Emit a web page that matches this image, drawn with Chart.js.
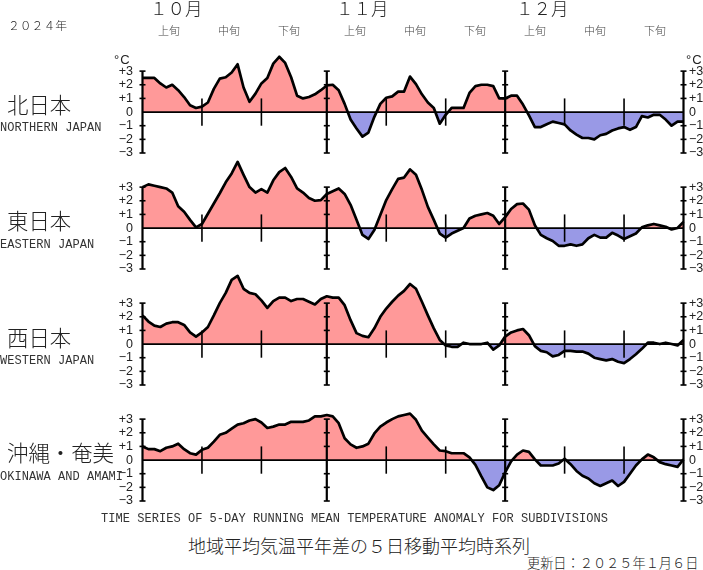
<!DOCTYPE html>
<html><head><meta charset="utf-8">
<script src="https://cdn.jsdelivr.net/npm/chart.js@4"></script>
<style>
html,body{margin:0;padding:0;background:#fff;overflow:hidden}
#page{position:relative;width:703px;height:570px;overflow:hidden}
canvas{position:absolute;left:0;pointer-events:none}
.t{position:absolute;white-space:nowrap;line-height:1;color:#222;transform:translateY(-50%)}
.jp{font-family:"Noto Sans CJK JP";font-weight:300}
.mono{font-family:"Liberation Mono";font-size:12px;color:#333;letter-spacing:.04px}
.unit{font-family:"Liberation Sans";font-size:13px;color:#222}
</style></head><body><div id="page"></div>
<script>
// ---- data ----
const monthNumbers=[10,11,12];
const monthLengths=[31,30,31];
const tickValues=[-3,-2,-1,0,1,2,3];
const monthStartDays=[31,61];
const decadeDays=[10,20,41,51,71,81];
const north=[2.5,2.5,2.5,2.1,1.8,2.0,1.6,1.1,0.5,0.3,0.4,0.7,1.7,2.45,2.55,2.9,3.5,1.8,0.75,1.35,2.1,2.5,3.55,4.05,3.6,2.55,1.2,1.0,1.1,1.3,1.6,1.95,2.0,1.6,0.6,-0.55,-1.2,-1.8,-1.5,-0.35,0.6,1.05,1.15,1.5,1.5,2.6,2.05,1.3,0.7,0.3,-0.85,-0.2,0.3,0.3,0.3,1.4,1.9,2.0,2.0,1.9,1.0,1.0,1.2,1.2,0.55,-0.25,-1.1,-1.1,-0.9,-0.7,-0.8,-0.9,-1.35,-1.65,-1.9,-1.9,-2.0,-1.7,-1.6,-1.35,-1.2,-1.1,-1.3,-1.1,-0.3,-0.4,-0.2,-0.2,-0.55,-1.0,-0.7,-0.7];
const east=[3.0,3.2,3.1,3.0,2.9,2.6,1.6,1.2,0.6,0.05,0.3,1.05,1.8,2.55,3.35,4.0,4.85,3.9,3.0,2.6,2.85,2.6,3.5,4.1,4.4,3.75,2.9,2.6,2.2,2.0,2.05,2.5,2.7,2.9,2.5,1.7,0.6,-0.5,-0.8,-0.15,0.95,2.05,2.85,3.6,3.7,4.3,3.9,2.8,1.55,0.6,-0.4,-0.7,-0.4,-0.2,0.0,0.7,0.9,1.0,1.1,0.9,0.3,0.8,1.4,1.75,1.8,1.35,0.2,-0.5,-0.75,-0.95,-1.3,-1.3,-1.2,-1.3,-1.2,-0.75,-0.5,-0.7,-0.7,-0.35,-0.55,-0.8,-0.6,-0.4,0.05,0.2,0.3,0.2,0.1,-0.1,0.0,0.45];
const west=[2.1,1.65,1.35,1.25,1.5,1.6,1.6,1.4,0.85,0.55,0.85,1.25,2.1,3.0,3.75,4.7,5.0,4.05,3.75,3.65,3.2,2.65,3.15,3.4,3.4,3.15,3.3,3.3,3.1,2.9,3.3,3.5,3.4,3.4,2.85,1.75,0.8,0.6,0.5,1.15,2.0,2.6,3.1,3.55,3.9,4.4,4.05,3.1,2.1,1.15,0.3,-0.1,-0.2,-0.2,0.1,0.0,0.0,0.0,0.1,-0.4,-0.1,0.55,0.85,1.0,1.1,0.65,-0.15,-0.5,-0.6,-0.9,-0.8,-0.5,-0.5,-0.55,-0.55,-0.7,-1.0,-1.1,-1.2,-1.1,-1.3,-1.4,-1.1,-0.75,-0.35,0.1,0.1,0.0,0.1,0.0,-0.1,0.3];
const okinawa=[1.0,0.8,0.8,0.65,0.9,1.0,1.2,0.8,0.5,0.4,0.75,0.9,1.35,1.85,2.0,2.3,2.6,2.7,2.9,3.0,2.75,2.35,2.45,2.6,2.6,2.8,2.8,2.8,2.9,3.2,3.2,3.3,3.2,2.7,1.6,1.15,0.9,1.0,1.2,1.95,2.45,2.75,3.0,3.2,3.3,3.4,2.95,2.15,1.65,1.15,0.7,0.65,0.5,0.5,0.5,0.2,-0.35,-1.2,-2.0,-2.2,-1.85,-0.9,-0.1,0.4,0.7,0.6,0.05,-0.4,-0.4,-0.4,-0.25,0.1,-0.3,-0.8,-1.15,-1.35,-1.7,-1.9,-1.7,-1.5,-1.9,-1.6,-1.0,-0.4,0.05,0.4,0.2,-0.15,-0.3,-0.4,-0.5,0.05];
const seriesList=[north,east,west,okinawa];
const regionJp=["北日本","東日本","西日本","沖縄・奄美"];
const regionEn=["NORTHERN JAPAN","EASTERN JAPAN","WESTERN JAPAN","OKINAWA AND AMAMI"];
const monthLabels=["１０月","１１月","１２月"];
const decadeLabels=["上旬","中旬","下旬","上旬","中旬","下旬","上旬","中旬","下旬"];
const yearLabel="２０２４年";
const captionEn="TIME SERIES OF 5-DAY RUNNING MEAN TEMPERATURE ANOMALY FOR SUBDIVISIONS";
const captionJp="地域平均気温平年差の５日移動平均時系列";
const updated="更新日：２０２５年１月６日";
const unitLabel="°C";

// ---- layout ----
const zeroY=[112,228,344,460], unitPx=13.67, maxV=5.5, minV=-3, padTop=6, padBottom=6;
const plotL=142.5, plotR=683.5, W=703;
const page=document.getElementById('page');
function text(s,x,y,size,cls,extra){const d=document.createElement('div');d.className='t '+cls;d.textContent=s;d.style.left=x+'px';d.style.top=y+'px';if(size)d.style.fontSize=size+'px';if(extra)Object.assign(d.style,extra);page.appendChild(d);return d;}

const dayLabels=[];
monthNumbers.forEach((m,i)=>{for(let d=1;d<=monthLengths[i];d++)dayLabels.push(m+'/'+d);});

const marks={id:'marks',afterDatasetsDraw(c){
  const g=c.ctx,x=c.scales.x,y=c.scales.y;
  g.save();g.strokeStyle='#000';g.lineCap='butt';
  const line=(a,b,e,f,w)=>{g.lineWidth=w;g.beginPath();g.moveTo(a,b);g.lineTo(e,f);g.stroke();};
  line(x.getPixelForValue(0),y.getPixelForValue(0),x.getPixelForValue(91),y.getPixelForValue(0),1.8);
  decadeDays.forEach(d=>{const p=x.getPixelForValue(d);line(p,y.getPixelForValue(1),p,y.getPixelForValue(-1),1.6);});
  [0,...monthStartDays,91].forEach(d=>{const p=x.getPixelForValue(d);
    line(p,y.getPixelForValue(3),p,y.getPixelForValue(-3),2.2);
    tickValues.forEach(v=>{if(v!==0)line(p-3,y.getPixelForValue(v),p+3,y.getPixelForValue(v),1.6);});
  });
  g.restore();
}};

const tickFmt=v=>v>0?'+'+v:(v<0?'\u2212'+(-v):'0');
seriesList.forEach((vals,i)=>{
  const cv=document.createElement('canvas');
  const plotH=(maxV-minV)*unitPx, H=plotH+padTop+padBottom;
  const top=zeroY[i]-maxV*unitPx-padTop;
  cv.width=W;cv.height=H;cv.style.top=top+'px';cv.style.width=W+'px';cv.style.height=H+'px';
  page.appendChild(cv);
  const axis=(pos,width)=>({type:'linear',position:pos,min:minV,max:maxV,bounds:'data',
    grid:{display:false,drawTicks:false},border:{display:false},
    afterBuildTicks:s=>{s.ticks=tickValues.map(v=>({value:v}));},
    afterFit:s=>{s.width=width;s.paddingTop=0;s.paddingBottom=0;},
    ticks:{autoSkip:false,padding:pos==='left'?9.5:5.5,color:'#222',font:{family:'"Liberation Sans"',size:12.5},callback:tickFmt,maxRotation:0}});
  new Chart(cv,{type:'line',
    data:{labels:dayLabels,datasets:[{data:vals,borderColor:'#000',borderWidth:2.7,pointRadius:0,tension:0,borderJoinStyle:'round',
      clip:false,fill:{target:{value:0},above:'#ff9999',below:'#9999e6'}}]},
    options:{responsive:false,animation:false,devicePixelRatio:1,
      layout:{autoPadding:false,padding:{top:padTop,bottom:padBottom,left:0,right:0}},
      plugins:{legend:{display:false},title:{display:false},tooltip:{enabled:false}},
      scales:{x:{type:'category',display:false,offset:false},y:axis('left',plotL),y2:axis('right',W-plotR)}},
    plugins:[marks]});
});

// ---- texts ----
text(yearLabel,8,25,11.8,'jp');
[150,336,516].forEach((x,i)=>text(monthLabels[i],x,8,17.5,'jp'));
[158,218,278,344,404,464,524,584,644].forEach((x,i)=>text(decadeLabels[i],x,30,11,'jp',{color:'#444'}));
text(unitLabel,114,58.5,13,'unit',{letterSpacing:'1px'});
text(unitLabel,686,58.5,13,'unit',{letterSpacing:'1px'});
const jpY=[104,220,336.5,452],enY=[128,244.5,360.5,476.5];
regionJp.forEach((s,i)=>{text(s,7,jpY[i],21.4,'jp');text(regionEn[i],0,enY[i],12,'mono');});
text(captionEn,101,519,12,'mono');
text(captionJp,188,545,18,'jp');
text(updated,527,563,13.2,'jp');
</script></body></html>
